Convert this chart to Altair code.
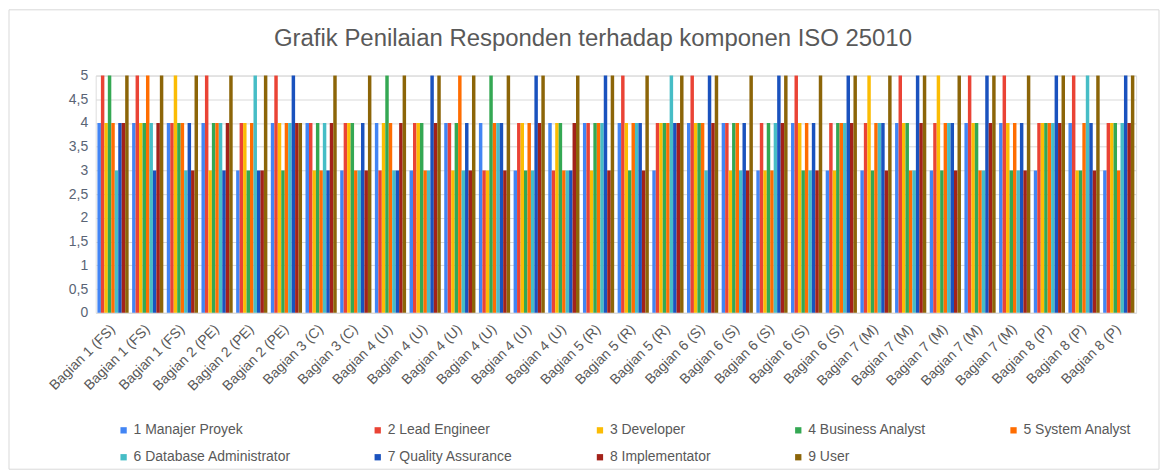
import json
import altair as alt
import pandas as pd

categories = (["Bagian 1 (FS)"] * 3 + ["Bagian 2 (PE)"] * 3 + ["Bagian 3 (C)"] * 2
              + ["Bagian 4 (U)"] * 6 + ["Bagian 5 (R)"] * 3 + ["Bagian 6 (S)"] * 5
              + ["Bagian 7 (M)"] * 5 + ["Bagian 8 (P)"] * 3)

series = ["1 Manajer Proyek", "2 Lead Engineer", "3 Developer", "4 Business Analyst",
          "5 System Analyst", "6 Database Administrator", "7 Quality Assurance",
          "8 Implementator", "9 User"]

manajer_proyek = [4,4,4,4,3,4,4,3,4,3,4,4,3,4,4,4,3,4,4,3,4,3,3,4,3,4,4,3,4,3]
lead_engineer = [5,5,4,5,4,5,4,4,3,4,4,3,4,3,4,5,4,5,4,4,5,4,4,5,4,5,5,4,5,4]
developer = [4,4,5,3,4,4,3,4,4,4,3,3,4,4,3,4,4,4,3,3,4,3,5,4,5,4,4,4,3,4]
business_analyst = [5,4,4,4,3,3,4,4,5,4,4,5,3,4,4,3,4,4,4,4,3,4,3,4,3,4,3,4,3,4]
system_analyst = [4,5,4,4,4,4,3,3,4,3,5,4,4,3,4,4,4,4,4,3,4,4,4,3,4,3,4,4,4,3]
database_admin = [3,4,3,4,5,4,4,3,3,3,3,4,3,3,4,4,5,3,3,4,3,4,4,3,4,3,3,4,5,4]
quality_assurance = [4,3,4,3,3,5,3,4,3,5,4,4,5,3,5,4,4,5,4,5,4,5,4,5,4,5,4,5,4,5]
implementator = [4,4,3,4,3,4,4,3,4,4,3,3,4,4,3,3,4,4,3,4,3,4,3,4,3,4,3,4,3,4]
user = [5,5,5,5,5,4,5,5,5,5,5,5,5,5,5,5,5,5,5,5,5,5,5,5,5,5,5,5,5,5]

colors = ["#4285F4", "#EA4335", "#FBBC04", "#34A853", "#FF6D01",
          "#46BDC6", "#1A52BE", "#A3221A", "#8C6508"]

y_ticks = [0, 0.5, 1, 1.5, 2, 2.5, 3, 3.5, 4, 4.5, 5]

title_text = "Grafik Penilaian Responden terhadap  komponen ISO 25010"

all_values = [manajer_proyek, lead_engineer, developer, business_analyst, system_analyst,
              database_admin, quality_assurance, implementator, user]

rows = []
for name, vals in zip(series, all_values):
    for i, v in enumerate(vals):
        rows.append({"idx": i, "series": name, "value": v})
df = pd.DataFrame(rows)

cat_expr = json.dumps(categories) + "[datum.value]"
FONT = "Liberation Sans"
GREY = "#595959"

bars = alt.Chart(df).mark_bar().encode(
    x=alt.X("idx:O",
            scale=alt.Scale(paddingInner=0.1, paddingOuter=0.05),
            axis=alt.Axis(title=None, labelExpr=cat_expr, labelAngle=-45,
                          labelAlign="right", labelBaseline="middle",
                          labelFontSize=14, labelColor=GREY, labelFont=FONT,
                          ticks=False, domain=False, labelPadding=14, grid=False)),
    xOffset=alt.XOffset("series:N", scale=alt.Scale(domain=series, paddingInner=0, paddingOuter=0)),
    y=alt.Y("value:Q",
            scale=alt.Scale(domain=[0, 5], nice=False),
            axis=alt.Axis(title=None, values=y_ticks,
                          labelExpr="replace(format(datum.value, '~g'), '.', ',')",
                          labelFontSize=14, labelColor="#5a6475", labelFont=FONT,
                          ticks=False, domain=False, labelPadding=8,
                          gridColor="#d9d9d9", gridWidth=1)),
    color=alt.Color("series:N",
                    scale=alt.Scale(domain=series, range=colors),
                    legend=alt.Legend(title=None, orient="none", legendX=21, legendY=349,
                                      direction="horizontal",
                                      columns=5, columnPadding=80, rowPadding=13,
                                      symbolType="square", symbolSize=40,
                                      labelFontSize=14, labelColor=GREY, labelFont=FONT,
                                      labelOffset=3, gridAlign="each")),
)

border = alt.Chart(pd.DataFrame({"b": [0]})).mark_rect(
    filled=False, stroke="#d9d9d9", strokeWidth=1
).encode(
    x=alt.value(-87), x2=alt.value(1067), y=alt.value(-66), y2=alt.value(395)
)

title = alt.Chart(pd.DataFrame({"t": [title_text]})).mark_text(
    fontSize=24, font=FONT, color=GREY, align="center", baseline="alphabetic"
).encode(
    text="t:N", x=alt.value(499), y=alt.value(-30)
)

chart = alt.layer(bars, border, title).properties(
    width=1044,
    height=238,
    autosize=alt.AutoSizeParams(type="none"),
    padding={"left": 88, "top": 67, "right": 28, "bottom": 160},
).configure_view(stroke=None).configure(background="white", font=FONT)

chart.save("out.html", embed_options={"renderer": "svg", "actions": False})
